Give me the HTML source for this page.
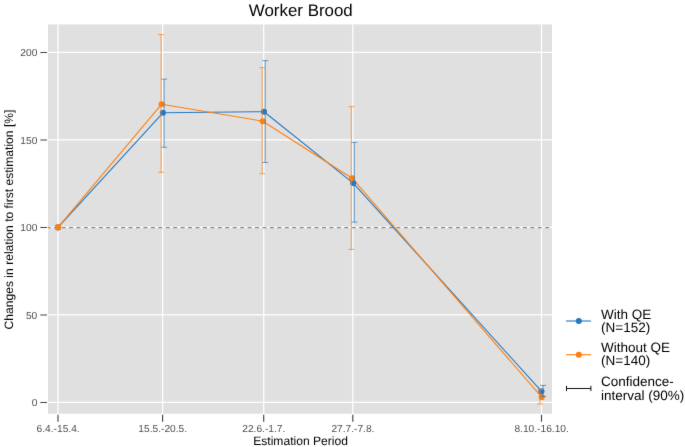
<!DOCTYPE html><html><head><meta charset="utf-8"><style>html,body{margin:0;padding:0;background:#fff;width:685px;height:447px;overflow:hidden}svg{display:block}text{font-family:"Liberation Sans",sans-serif;filter:grayscale(1);text-rendering:geometricPrecision}</style></head><body>
<svg width="685" height="447" viewBox="0 0 685 447">
<defs><filter id="bl" filterUnits="userSpaceOnUse" x="0" y="0" width="685" height="447" color-interpolation-filters="sRGB"><feConvolveMatrix order="3" kernelMatrix="0.00524 0.06192 0.00524 0.06192 0.73137 0.06192 0.00524 0.06192 0.00524" edgeMode="duplicate" preserveAlpha="true"/></filter></defs>
<g filter="url(#bl)"><rect width="685" height="447" fill="#fff"/>
<rect x="48" y="24.4" width="504" height="389.30" fill="#e0e0e0"/>
<path d="M48 402.40H552M48 314.90H552M48 227.40H552M48 139.90H552M48 52.40H552M58 24.4V413.7M162.6 24.4V413.7M263.7 24.4V413.7M352.8 24.4V413.7M541.5 24.4V413.7" stroke="#fff" stroke-width="1.25" fill="none"/>
<line x1="48" x2="552" y1="227.65" y2="227.65" stroke="#8e8e8e" stroke-width="1.3" stroke-dasharray="4.0 3.44" stroke-dashoffset="1.3"/>
<polyline points="58.00,227.40 162.90,112.77 264.00,111.72 353.20,183.12 541.40,391.20" stroke="#2679c0" stroke-width="1.1" fill="none" stroke-linejoin="round"/>
<polyline points="58.00,227.40 161.70,104.20 262.80,121.18 352.10,178.22 541.70,397.15" stroke="#ff7f0e" stroke-width="1.1" fill="none" stroke-linejoin="round"/>
<circle cx="58.00" cy="227.40" r="3.05" fill="#2679c0" fill-opacity="1"/>
<circle cx="162.90" cy="112.77" r="3.05" fill="#2679c0" fill-opacity="1"/>
<circle cx="264.00" cy="111.72" r="3.05" fill="#2679c0" fill-opacity="1"/>
<circle cx="353.20" cy="183.12" r="3.05" fill="#2679c0" fill-opacity="1"/>
<circle cx="541.40" cy="391.20" r="3.05" fill="#2679c0" fill-opacity="1"/>
<circle cx="58.00" cy="227.40" r="3.05" fill="#ff7f0e" fill-opacity="1"/>
<circle cx="161.70" cy="104.20" r="3.05" fill="#ff7f0e" fill-opacity="1"/>
<circle cx="262.80" cy="121.18" r="3.05" fill="#ff7f0e" fill-opacity="1"/>
<circle cx="352.10" cy="178.22" r="3.05" fill="#ff7f0e" fill-opacity="1"/>
<circle cx="541.70" cy="397.15" r="3.05" fill="#ff7f0e" fill-opacity="1"/>
<path d="M164.10 79.18V147.25M161.10 79.18H167.10M161.10 147.25H167.10M265.20 60.62V162.47M262.20 60.62H268.20M262.20 162.47H268.20M354.30 142.35V222.15M351.30 142.35H357.30M351.30 222.15H357.30M543.00 385.42V396.45M540.00 385.42H546.00M540.00 396.45H546.00" stroke="#2679c0" stroke-opacity="0.7" stroke-width="1.0" fill="none"/>
<path d="M161.10 34.55V172.27M158.10 34.55H164.10M158.10 172.27H164.10M262.20 67.62V173.68M259.20 67.62H265.20M259.20 173.68H265.20M351.30 106.65V249.45M348.30 106.65H354.30M348.30 249.45H354.30M540.00 389.45V403.97M537.00 389.45H543.00M537.00 403.97H543.00" stroke="#ff7f0e" stroke-opacity="0.7" stroke-width="1.0" fill="none"/>
<path d="M40.3 402.50H47M40.3 315.00H47M40.3 227.50H47M40.3 140.00H47M40.3 52.50H47M58 414.7V421.8M162.6 414.7V421.8M263.7 414.7V421.8M352.8 414.7V421.8M541.5 414.7V421.8" stroke="#444" stroke-width="1.15" fill="none"/>
<text transform="translate(37.3 406.00) scale(1 1)" font-size="10.2" fill="#4d4d4d" text-anchor="end">0</text>
<text transform="translate(37.3 318.50) scale(1 1)" font-size="10.2" fill="#4d4d4d" text-anchor="end">50</text>
<text transform="translate(37.3 231.00) scale(1 1)" font-size="10.2" fill="#4d4d4d" text-anchor="end">100</text>
<text transform="translate(37.3 143.50) scale(1 1)" font-size="10.2" fill="#4d4d4d" text-anchor="end">150</text>
<text transform="translate(37.3 56.00) scale(1 1)" font-size="10.2" fill="#4d4d4d" text-anchor="end">200</text>
<text transform="translate(58.1 432.4) scale(1 1)" font-size="10.2" fill="#4d4d4d" text-anchor="middle">6.4.-15.4.</text>
<text transform="translate(162.7 432.4) scale(1 1)" font-size="10.2" fill="#4d4d4d" text-anchor="middle">15.5.-20.5.</text>
<text transform="translate(263.8 432.4) scale(1 1)" font-size="10.2" fill="#4d4d4d" text-anchor="middle">22.6.-1.7.</text>
<text transform="translate(352.90000000000003 432.4) scale(1 1)" font-size="10.2" fill="#4d4d4d" text-anchor="middle">27.7.-7.8.</text>
<text transform="translate(541.6 432.4) scale(1 1)" font-size="10.2" fill="#4d4d4d" text-anchor="middle">8.10.-16.10.</text>
<text transform="translate(300.6 445.1) scale(1 1)" font-size="12.1" fill="#000" text-anchor="middle">Estimation Period</text>
<text transform="translate(13.2 219.5) rotate(-90)" font-size="12.1" fill="#000" text-anchor="middle">Changes in relation to first estimation [%]</text>
<text x="300.8" y="15.9" font-size="16.9" fill="#000" text-anchor="middle">Worker Brood</text>
<line x1="566" x2="591" y1="321" y2="321" stroke="#2679c0" stroke-width="1.1"/><circle cx="578.8" cy="321" r="3.05" fill="#2679c0"/>
<line x1="566" x2="591" y1="354.7" y2="354.7" stroke="#ff7f0e" stroke-width="1.1"/><circle cx="578.8" cy="354.7" r="3.05" fill="#ff7f0e"/>
<path d="M566.5 388.5H590.9M566.5 385.8V391.1M590.9 385.8V391.1" stroke="#111" stroke-width="1.0" fill="none"/>
<text transform="translate(601 318.9) scale(1 1)" font-size="13.5" fill="#000">With QE</text>
<text transform="translate(601 332.4) scale(1 1)" font-size="13.5" fill="#000">(N=152)</text>
<text transform="translate(601 352.3) scale(1 1)" font-size="13.5" fill="#000">Without QE</text>
<text transform="translate(601 365.4) scale(1 1)" font-size="13.5" fill="#000">(N=140)</text>
<text transform="translate(601 386.3) scale(1 1)" font-size="13.5" fill="#000">Confidence-</text>
<text transform="translate(601 399.8) scale(1 1)" font-size="13.5" fill="#000">interval (90%)</text>
</g></svg></body></html>
